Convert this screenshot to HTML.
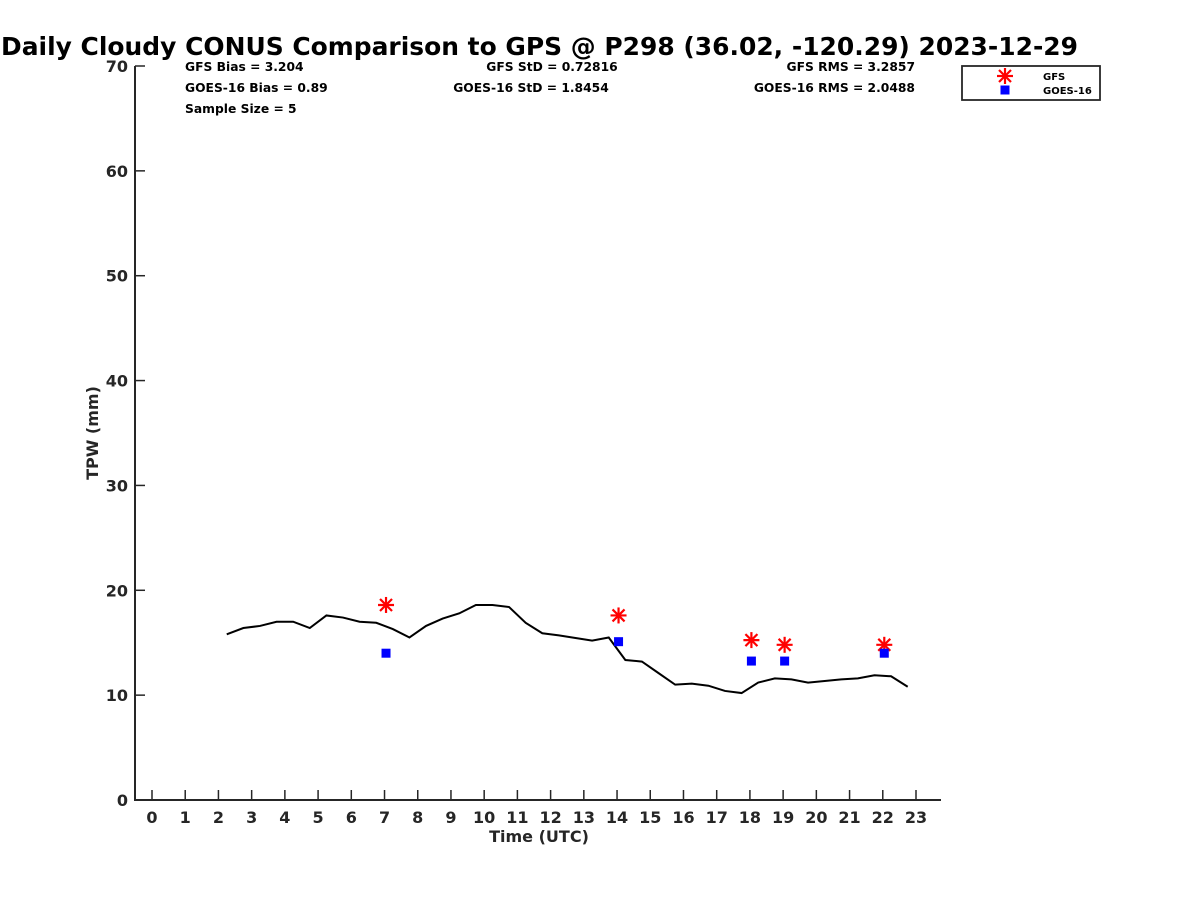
<!DOCTYPE html>
<html><head><meta charset="utf-8"><style>
body{margin:0;background:#fff}
svg text{font-family:"DejaVu Sans","Liberation Sans",sans-serif;font-weight:bold;fill:#262626}
</style></head><body>
<svg id="chart" width="1200" height="900" xmlns="http://www.w3.org/2000/svg">
<text x="1" y="55" textLength="1077" lengthAdjust="spacingAndGlyphs" font-size="24.5" style="fill:#000">Daily Cloudy CONUS Comparison to GPS @ P298 (36.02, -120.29) 2023-12-29</text>
<g font-size="12.3">
<text x="185" y="71" style="fill:#000">GFS Bias = 3.204</text>
<text x="185" y="92" style="fill:#000">GOES-16 Bias = 0.89</text>
<text x="185" y="113" style="fill:#000">Sample Size = 5</text>
<text x="552" y="71" text-anchor="middle" style="fill:#000">GFS StD = 0.72816</text>
<text x="531" y="92" text-anchor="middle" style="fill:#000">GOES-16 StD = 1.8454</text>
<text x="915" y="71" text-anchor="end" style="fill:#000">GFS RMS = 3.2857</text>
<text x="915" y="92" text-anchor="end" style="fill:#000">GOES-16 RMS = 2.0488</text>
</g>
<g id="axes"></g>
<g id="marks"></g>
<g>
<rect x="962" y="66" width="138" height="34" fill="#fff" stroke="#262626" stroke-width="1.8"/>
<g stroke="#f00" stroke-width="2.2" transform="translate(1005,76)"><line x1="-8" y1="0" x2="8" y2="0"/><line x1="0" y1="-8" x2="0" y2="8"/><line x1="-6" y1="-6" x2="6" y2="6"/><line x1="-6" y1="6" x2="6" y2="-6"/></g>
<rect x="1000.5" y="85.5" width="9" height="9" fill="#00f"/>
<text x="1043" y="80" font-size="10" style="fill:#000">GFS</text>
<text x="1043" y="94" font-size="10" style="fill:#000">GOES-16</text>
</g>
</svg>
<script>
const gpsTimes=[2.25,2.75,3.25,3.75,4.25,4.75,5.25,5.75,6.25,6.75,7.25,7.75,8.25,8.75,9.25,9.75,10.25,10.75,11.25,11.75,12.25,12.75,13.25,13.75,14.25,14.75,15.25,15.75,16.25,16.75,17.25,17.75,18.25,18.75,19.25,19.75,20.25,20.75,21.25,21.75,22.25,22.75];
const gpsValues=[15.8,16.4,16.6,17.0,17.0,16.4,17.6,17.4,17.0,16.9,16.3,15.5,16.6,17.3,17.8,18.6,18.6,18.4,16.9,15.9,15.7,15.45,15.2,15.5,13.35,13.2,12.1,11.0,11.1,10.9,10.4,10.2,11.2,11.6,11.5,11.2,11.35,11.5,11.6,11.9,11.8,10.8];
const sampleHours=[7,14,18,19,22];
const gfsValues=[18.6,17.6,15.25,14.8,14.8];
const goesValues=[14.0,15.1,13.25,13.25,14.0];
const xTicks=[0,1,2,3,4,5,6,7,8,9,10,11,12,13,14,15,16,17,18,19,20,21,22,23];
const yTicks=[0,10,20,30,40,50,60,70];
const NS='http://www.w3.org/2000/svg';
const X=h=>152+h*(916-152)/23;
const Y=v=>800-v*(800-66)/70;
function mk(tag,attrs,parent){const e=document.createElementNS(NS,tag);for(const k in attrs)e.setAttribute(k,attrs[k]);parent.appendChild(e);return e;}
const axes=document.getElementById('axes'),marks=document.getElementById('marks');
const yl=mk('line',{x1:135,y1:66,x2:135,y2:800,stroke:'#262626','stroke-width':2},axes);


const xl=mk('line',{x1:134,y1:800,x2:941,y2:800,stroke:'#262626','stroke-width':2},axes);


xTicks.forEach(t=>{mk('line',{x1:X(t),y1:790,x2:X(t),y2:800,stroke:'#262626','stroke-width':1.5},axes);
const tx=mk('text',{x:X(t),y:823,'text-anchor':'middle','font-size':16},axes);tx.textContent=t;

});
yTicks.forEach(t=>{mk('line',{x1:135,y1:Y(t),x2:145,y2:Y(t),stroke:'#262626','stroke-width':1.5},axes);
const tx=mk('text',{x:128,y:Y(t)+6,'text-anchor':'end','font-size':16},axes);tx.textContent=t;

});
const xt=mk('text',{x:539,y:842,'text-anchor':'middle','font-size':16},axes);xt.textContent='Time (UTC)';


const yt=mk('text',{x:98,y:433,'text-anchor':'middle','font-size':16,transform:'rotate(-90 98 433)'},axes);yt.textContent='TPW (mm)';


const line=mk('polyline',{points:gpsTimes.map((t,i)=>X(t)+','+Y(gpsValues[i])).join(' '),fill:'none',stroke:'#000','stroke-width':2},marks);


sampleHours.forEach((h,i)=>{
const g=mk('g',{transform:`translate(${X(h)+1.5},${Y(gfsValues[i])})`,stroke:'#f00','stroke-width':2.2},marks);


mk('line',{x1:-8,y1:0,x2:8,y2:0},g);mk('line',{x1:0,y1:-8,x2:0,y2:8},g);mk('line',{x1:-6,y1:-6,x2:6,y2:6},g);mk('line',{x1:-6,y1:6,x2:6,y2:-6},g);
const r=mk('rect',{x:X(h)-3,y:Y(goesValues[i])-4.5,width:9,height:9,fill:'#00f'},marks);


});
</script>
</body></html>
